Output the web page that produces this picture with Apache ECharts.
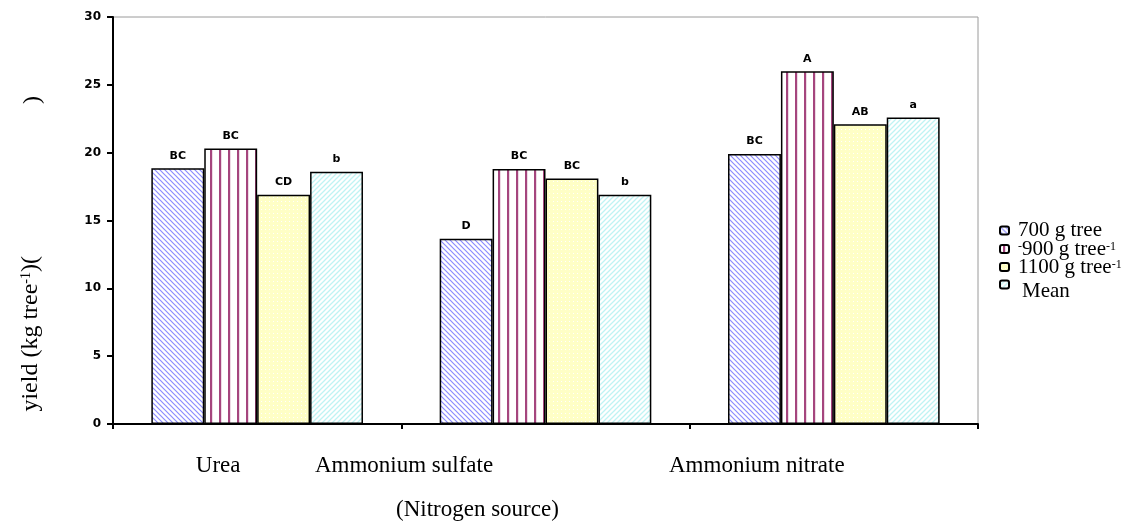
<!DOCTYPE html>
<html>
<head>
<meta charset="utf-8">
<script src="https://cdn.jsdelivr.net/npm/echarts@6/dist/echarts.min.js"></script>
<style>html,body{margin:0;padding:0;background:#fff;}#c{width:1140px;height:530px;}</style>
</head>
<body>
<div id="c"></div>
<script>
var categories = ['Urea', 'Ammonium sulfate', 'Ammonium nitrate'];
var seriesNames = ['700 g tree', '900 g tree', '1100 g tree', 'Mean'];
var s700 = [18.85, 13.65, 19.9];
var s900 = [20.3, 18.8, 26.0];
var s1100 = [16.9, 18.1, 22.1];
var sMean = [18.6, 16.9, 22.6];
var labels700 = ['BC', 'D', 'BC'];
var labels900 = ['BC', 'BC', 'A'];
var labels1100 = ['CD', 'BC', 'AB'];
var labelsMean = ['b', 'b', 'a'];
var yTicks = [0, 5, 10, 15, 20, 25, 30];

function pat(w, h, draw) {
  var c = document.createElement('canvas');
  c.width = w; c.height = h;
  var ctx = c.getContext('2d');
  draw(ctx, w, h);
  return { image: c, repeat: 'repeat' };
}
var p700 = pat(5, 5, function (ctx, w, h) {
  ctx.fillStyle = '#fff'; ctx.fillRect(0, 0, w, h);
  ctx.strokeStyle = '#8c8cff'; ctx.lineWidth = 1.2;
  ctx.beginPath();
  ctx.moveTo(-1, -1); ctx.lineTo(w + 1, h + 1);
  ctx.moveTo(-1, h - 1); ctx.lineTo(1, h + 1);
  ctx.moveTo(w - 1, -1); ctx.lineTo(w + 1, 1);
  ctx.stroke();
});
var p900 = pat(9, 4, function (ctx, w, h) {
  ctx.fillStyle = '#fff'; ctx.fillRect(0, 0, w, h);
  ctx.fillStyle = '#a5457e'; ctx.fillRect(3, 0, 2.2, h);
});
var p1100 = pat(4, 4, function (ctx, w, h) {
  ctx.fillStyle = '#ffffc6'; ctx.fillRect(0, 0, w, h);
  ctx.fillStyle = '#ffffff'; ctx.fillRect(1, 1, 1, 1);
});
var pMean = pat(5, 5, function (ctx, w, h) {
  ctx.fillStyle = '#fff'; ctx.fillRect(0, 0, w, h);
  ctx.strokeStyle = '#bff3f3'; ctx.lineWidth = 1.3;
  ctx.beginPath();
  ctx.moveTo(-1, h + 1); ctx.lineTo(w + 1, -1);
  ctx.moveTo(-1, 1); ctx.lineTo(1, -1);
  ctx.moveTo(w - 1, h + 1); ctx.lineTo(w + 1, h - 1);
  ctx.stroke();
});

var chart = echarts.init(document.getElementById('c'), null, { renderer: 'canvas' });
var serif = '"Liberation Serif", "Times New Roman", serif';
var pix = '"DejaVu Sans", sans-serif';

function mk(name, data, labs, color) {
  return {
    name: name, type: 'bar', data: data, barGap: '0%', barCategoryGap: '26.6%',
    itemStyle: { color: color, borderColor: '#000', borderWidth: 1.5 },
    label: {
      show: true, position: 'top', distance: 7,
      fontFamily: pix, fontWeight: 900, fontSize: 11, color: '#000',
      formatter: function (p) { return labs[p.dataIndex]; }
    },
    emphasis: { disabled: true }
  };
}

var legendRich = {
  t: { fontFamily: serif, fontSize: 21, color: '#000', lineHeight: 17 },
  sup: { fontFamily: serif, fontSize: 12, color: '#000', lineHeight: 12, verticalAlign: 'top' }
};
var legendTops = [220, 238.5, 256.5, 274];
function legendFmt(n) {
  if (n === seriesNames[0]) return '{t|700 g tree}';
  if (n === seriesNames[1]) return '{sup|-}{t|900 g tree}{sup|-1}';
  if (n === seriesNames[2]) return '{t|1100 g tree}{sup|-1}';
  return '{t| }';
}
var legends = seriesNames.map(function (n, i) {
  return {
    orient: 'vertical', left: 999, top: legendTops[i], padding: 0,
    icon: 'roundRect', itemWidth: 9, itemHeight: 8, selectedMode: false,
    data: [n], formatter: legendFmt,
    textStyle: { rich: legendRich, fontSize: 21, lineHeight: 17, padding: [0, 0, 0, 4], fontFamily: serif }
  };
});

chart.setOption({
  animation: false,
  backgroundColor: '#fff',
  grid: { left: 113, right: 162, top: 17, bottom: 106, show: true, borderColor: '#9a9a9a', borderWidth: 1, containLabel: false },
  legend: legends,
  xAxis: {
    type: 'category', data: categories,
    axisLine: { lineStyle: { color: '#000', width: 2 } },
    axisTick: { show: true, length: 5, inside: false, lineStyle: { color: '#000', width: 2 } },
    axisLabel: {
      margin: 30,
      formatter: function (v, i) { return ['{u|', '{s|', '{n|'][i] + v + '}'; },
      rich: {
        u: { fontFamily: serif, fontSize: 23, color: '#000', padding: [0, 78, 0, 0] },
        s: { fontFamily: serif, fontSize: 23, color: '#000', padding: [0, 283, 0, 0] },
        n: { fontFamily: serif, fontSize: 23, color: '#000', padding: [0, 154, 0, 0] }
      }
    },
    splitLine: { show: false }
  },
  yAxis: {
    type: 'value', min: yTicks[0], max: yTicks[yTicks.length - 1], interval: 5,
    axisLine: { show: true, lineStyle: { color: '#000', width: 2 } },
    axisTick: { show: true, length: 6, lineStyle: { color: '#000', width: 2 } },
    axisLabel: { margin: 12, fontFamily: pix, fontWeight: 900, fontSize: 12, color: '#000' },
    splitLine: { show: false }
  },
  graphic: [
    {
      type: 'text', left: 19, top: 256, rotation: Math.PI / 2,
      style: {
        text: '{a|yield (kg tree}{b|-1}{a|)(}',
        rich: {
          a: { fontFamily: serif, fontSize: 24, fill: '#000' },
          b: { fontFamily: serif, fontSize: 14, fill: '#000', verticalAlign: 'top' }
        }
      }
    },
    {
      type: 'text', left: 21, top: 96, rotation: Math.PI / 2,
      style: { text: ')', fontFamily: serif, fontSize: 24, fill: '#000' }
    },
    {
      type: 'text', left: 396, top: 498,
      style: { text: '(Nitrogen source)', fontFamily: serif, fontSize: 23, fill: '#000' }
    },
    {
      type: 'text', left: 1022, top: 281,
      style: { text: 'Mean', fontFamily: serif, fontSize: 21, fill: '#000' }
    }
  ],
  series: [
    mk(seriesNames[0], s700, labels700, p700),
    mk(seriesNames[1], s900, labels900, p900),
    mk(seriesNames[2], s1100, labels1100, p1100),
    mk(seriesNames[3], sMean, labelsMean, pMean)
  ]
});
</script>
</body>
</html>
